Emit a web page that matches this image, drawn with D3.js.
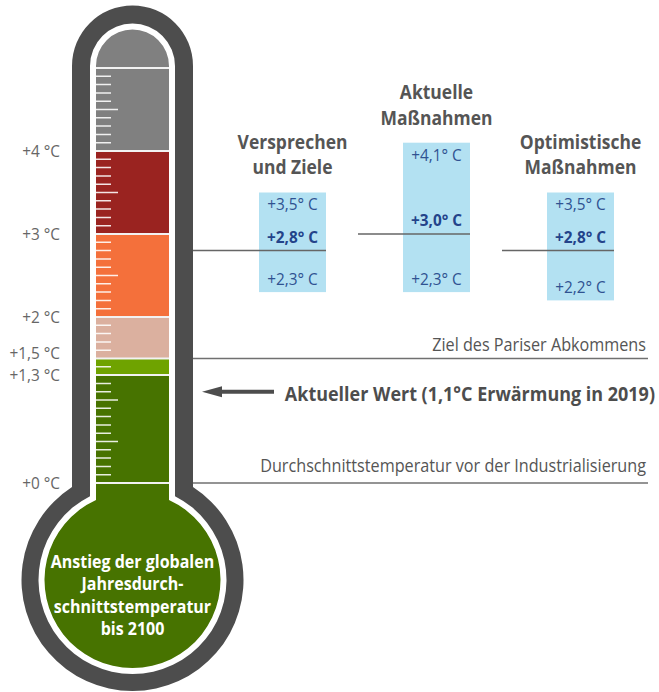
<!DOCTYPE html>
<html>
<head>
<meta charset="utf-8">
<script src="https://cdn.jsdelivr.net/npm/d3@7"></script>
<style>
  html, body { margin: 0; padding: 0; background: #fff; }
  svg { display: block; }
  text { font-family: 'Open Sans', 'Noto Sans', sans-serif; }
</style>
</head>
<body>
<svg id="chart" width="659" height="692"></svg>
<script>
// Temperature bands of the thermometer column (°C above pre-industrial level)
const bandStarts = [0, 1.3, 1.5, 2, 3, 4];
const bandColors = ["#477300", "#6fa300", "#dbb09f", "#f4703b", "#9a2320", "#808080"];

// Left scale labels
const axisTicks  = [0, 1.3, 1.5, 2, 3, 4];
const axisLabels = ["+0 °C", "+1,3 °C", "+1,5 °C", "+2 °C", "+3 °C", "+4 °C"];

// Scenarios: projected warming by 2100 (low / central / high)
const scenarioTitles = [["Versprechen", "und Ziele"], ["Aktuelle", "Maßnahmen"], ["Optimistische", "Maßnahmen"]];
const scenarioLow  = [2.3, 2.3, 2.2];
const scenarioMid  = [2.8, 3.0, 2.8];
const scenarioHigh = [3.5, 4.1, 3.5];

// Reference levels
const parisTarget = 1.5;
const preIndustrial = 0;
const currentWarming = 1.1;

const bulbLines = ["Anstieg der globalen", "Jahresdurch-", "schnittstemperatur", "bis 2100"];

const fmt = v => "+" + d3.format(".1f")(v).replace(".", ",") + "° C";

// horizontally narrow a text around its anchor x (condensed look)
function squeeze(sel, k, xFixed) {
  sel.attr("transform", function () {
    const x = xFixed !== undefined ? xFixed : (+d3.select(this).attr("x") || 0);
    return `translate(${x},0) scale(${k},1) translate(${-x},0)`;
  });
}

const svg = d3.select("#chart");

const y = d3.scaleLinear().domain([0, 5]).range([483, 68]);

// ---- thermometer ----
const cx = 132.5, topCy = y(5) - 2, bulbCy = 580;
function tubePath(hw, r) {
  const yJoin = bulbCy - Math.sqrt(r * r - hw * hw);
  const p = d3.path();
  p.moveTo(cx - hw, topCy);
  p.arc(cx, topCy, hw, Math.PI, 2 * Math.PI);
  p.lineTo(cx + hw, yJoin);
  const a0 = Math.atan2(yJoin - bulbCy, hw);
  const a1 = Math.atan2(yJoin - bulbCy, -hw) + 2 * Math.PI;
  p.arc(cx, bulbCy, r, a0, a1, false);
  p.closePath();
  return p.toString();
}

const thermo = svg.append("g");
thermo.append("path").attr("d", tubePath(60.5, 111)).attr("fill", "#4d4d4d");
thermo.append("path").attr("d", tubePath(42.5, 94)).attr("fill", "#ffffff");

const colHW = 36.5;
svg.append("defs").append("clipPath").attr("id", "colClip")
  .append("path").attr("d", tubePath(colHW, 88));

const col = thermo.append("g").attr("clip-path", "url(#colClip)");
col.selectAll("rect.band").data(bandStarts).join("rect")
  .attr("class", "band")
  .attr("x", cx - 120)
  .attr("width", 240)
  .attr("y", (d, i) => i === bandStarts.length - 1 ? 0 : y(bandStarts[i + 1]))
  .attr("height", (d, i) => (i === 0 ? 692 : y(d)) - (i === bandStarts.length - 1 ? 0 : y(bandStarts[i + 1])))
  .attr("fill", (d, i) => bandColors[i]);

// band separators
col.selectAll("line.sep").data(bandStarts.concat([5])).join("line")
  .attr("class", "sep")
  .attr("x1", cx - colHW - 1).attr("x2", cx + colHW + 1)
  .attr("y1", d => y(d)).attr("y2", d => y(d))
  .attr("stroke", "#f2f2f2").attr("stroke-width", 2);

// graduation every 0.1 °C
const grads = d3.range(1, 50).filter(i => !bandStarts.some(b => Math.abs(b * 10 - i) < 1e-6));
col.selectAll("line.grad").data(grads).join("line")
  .attr("class", "grad")
  .attr("x1", cx - colHW).attr("x2", i => cx - colHW + (i % 5 === 0 ? 22 : 15))
  .attr("y1", i => y(i / 10)).attr("y2", i => y(i / 10))
  .attr("stroke", "rgba(255,255,255,0.88)").attr("stroke-width", 1.5);

// bulb caption
const bulbText = thermo.append("text")
  .attr("text-anchor", "middle")
  .attr("fill", "#ffffff")
  .attr("font-weight", 700)
  .attr("font-size", 18);
bulbText.selectAll("tspan").data(bulbLines).join("tspan")
  .attr("x", cx).attr("y", (d, i) => bulbCy - 12 + i * 22.5)
  .text(d => d);
squeeze(bulbText, 0.89, cx);

// ---- left scale ----
const axis = d3.axisLeft(y).tickValues(axisTicks)
  .tickFormat((d, i) => axisLabels[i]).tickSize(0).tickPadding(0);
const axisG = svg.append("g").attr("transform", "translate(60,0)").call(axis);
axisG.select(".domain").remove();
axisG.attr("font-family", null);
axisG.selectAll("text")
  .attr("fill", "#666").attr("font-size", 16);
squeeze(axisG.selectAll("text"), 0.96, 0);
// keep close labels apart
const minGap = 22;
axisG.selectAll(".tick").each(function (d) {
  const above = axisTicks.filter(t => t > d && y(d) - y(t) < minGap);
  if (above.length === 0) {
    const below = axisTicks.filter(t => t < d && y(t) - y(d) < minGap);
    if (below.length) {
      const shift = minGap - (y(below[0]) - y(d));
      d3.select(this).select("text").attr("y", -shift);
    }
  }
});

// ---- reference lines ----
const xLineEnd = 648, xTextEnd = 646, thermoRight = cx + 60.5;
const refs = [
  { v: parisTarget, label: "Ziel des Pariser Abkommens", off: 7 },
  { v: preIndustrial, label: "Durchschnittstemperatur vor der Industrialisierung", off: 11 }
];
svg.selectAll("line.ref").data(refs).join("line")
  .attr("class", "ref")
  .attr("x1", thermoRight).attr("x2", xLineEnd)
  .attr("y1", d => y(d.v)).attr("y2", d => y(d.v))
  .attr("stroke", "#707070").attr("stroke-width", 1.5);
const refText = svg.selectAll("text.ref").data(refs).join("text")
  .attr("class", "ref")
  .attr("x", xTextEnd).attr("y", d => y(d.v) - d.off)
  .attr("text-anchor", "end")
  .attr("fill", "#555").attr("font-size", 18)
  .text(d => d.label);
squeeze(refText, 0.9);

// current warming arrow
const ay = y(currentWarming);
svg.append("line").attr("x1", 216).attr("x2", 274).attr("y1", ay).attr("y2", ay)
  .attr("stroke", "#4d4d4d").attr("stroke-width", 4);
svg.append("path")
  .attr("d", `M202,${ay} L222,${ay - 5.5} L222,${ay + 5.5} Z`)
  .attr("fill", "#4d4d4d");
const curText = svg.append("text").attr("x", 655).attr("y", ay + 9)
  .attr("text-anchor", "end").attr("fill", "#4d4d4d")
  .attr("font-weight", 700).attr("font-size", 19)
  .text("Aktueller Wert (1,1°C Erwärmung in 2019)");
squeeze(curText, 0.946);

// ---- scenario boxes ----
const xs = d3.scalePoint().domain(d3.range(scenarioTitles.length)).range([292.5, 580.5]);
const boxW = 67;
const sc = svg.selectAll("g.scenario").data(scenarioTitles).join("g").attr("class", "scenario");

sc.append("rect")
  .attr("x", (d, i) => xs(i) - boxW / 2).attr("width", boxW)
  .attr("y", (d, i) => y(scenarioHigh[i]))
  .attr("height", (d, i) => y(scenarioLow[i]) - y(scenarioHigh[i]))
  .attr("fill", "#b3e1f2");

sc.append("line")
  .attr("x1", (d, i) => i === 0 ? thermoRight : xs(i) - boxW / 2 - 45)
  .attr("x2", (d, i) => xs(i) + boxW / 2)
  .attr("y1", (d, i) => y(scenarioMid[i])).attr("y2", (d, i) => y(scenarioMid[i]))
  .attr("stroke", "#666").attr("stroke-width", 1.5);

const hi = sc.append("text").attr("text-anchor", "middle")
  .attr("x", (d, i) => xs(i)).attr("y", (d, i) => y(scenarioHigh[i]) + 18)
  .attr("fill", "#2f5291").attr("font-size", 16.5)
  .text((d, i) => fmt(scenarioHigh[i]));
const mid = sc.append("text").attr("text-anchor", "middle")
  .attr("x", (d, i) => xs(i)).attr("y", (d, i) => y(scenarioMid[i]) - 8)
  .attr("fill", "#23438a").attr("font-size", 16.5).attr("font-weight", 700)
  .text((d, i) => fmt(scenarioMid[i]));
const lo = sc.append("text").attr("text-anchor", "middle")
  .attr("x", (d, i) => xs(i)).attr("y", (d, i) => y(scenarioLow[i]) - 7)
  .attr("fill", "#2f5291").attr("font-size", 16.5)
  .text((d, i) => fmt(scenarioLow[i]));
[hi, mid, lo].forEach(s => squeeze(s, 0.93));

const titles = sc.append("text").attr("text-anchor", "middle")
  .attr("fill", "#555").attr("font-weight", 700).attr("font-size", 19);
titles.selectAll("tspan").data((d, i) => d.map(line => ({ line, i, n: d.length })))
  .join("tspan")
  .attr("x", d => xs(d.i))
  .attr("y", (d, k) => y(scenarioHigh[d.i]) - 18 - (d.n - 1 - k) * 25.5)
  .text(d => d.line);
titles.each(function (d, i) { squeeze(d3.select(this), 0.92, xs(i)); });
</script>
</body>
</html>
